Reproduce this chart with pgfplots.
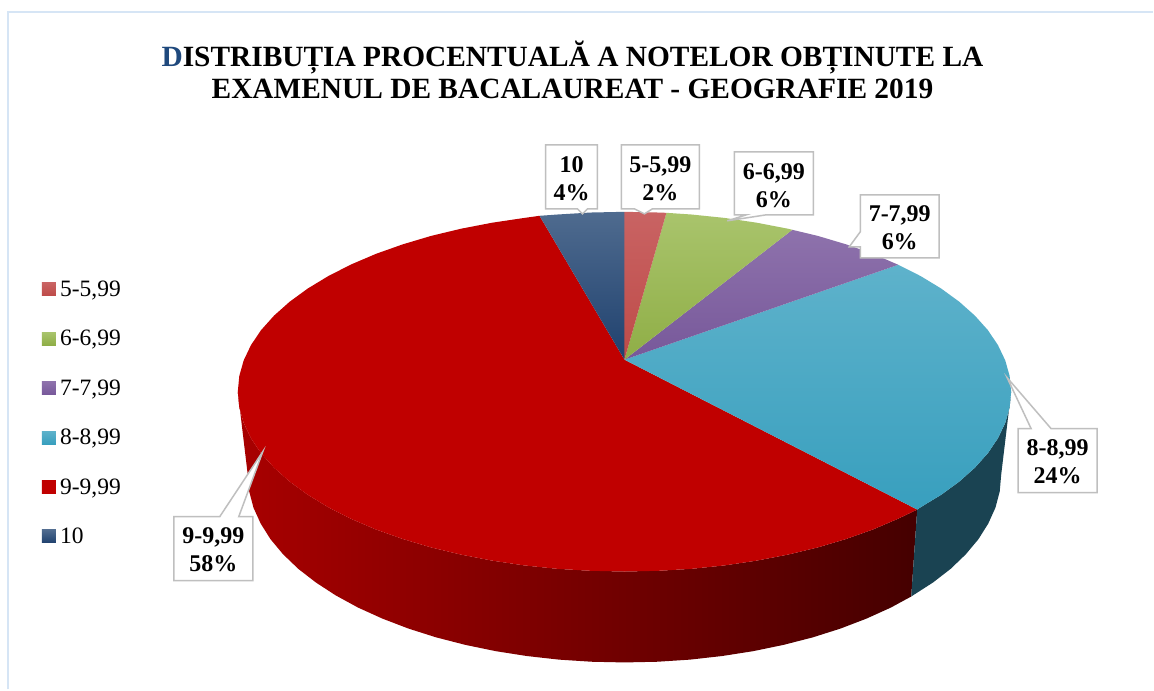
\documentclass[border=0pt]{standalone}
\usepackage{pgfplots}
\pgfplotsset{compat=1.18}
\usepackage{fontspec}
\setmainfont{Liberation Serif}
\definecolor{frameblue}{HTML}{D6E5F5}
\definecolor{boxgray}{HTML}{BFBFBF}
\definecolor{navyT}{HTML}{4F6B8F}\definecolor{navyB}{HTML}{1F416E}
\definecolor{pinkT}{HTML}{C96363}\definecolor{pinkB}{HTML}{BE4B48}
\definecolor{greenT}{HTML}{A9C46C}\definecolor{greenB}{HTML}{8FAE46}
\definecolor{purpT}{HTML}{8E72AC}\definecolor{purpB}{HTML}{77589A}
\definecolor{tealT}{HTML}{5EB2CB}\definecolor{tealB}{HTML}{389FBE}
\definecolor{tealS}{HTML}{1A4352}
\definecolor{redM}{HTML}{C00000}\definecolor{redL}{HTML}{A80000}\definecolor{redR}{HTML}{450000}
\definecolor{titleblue}{HTML}{1F497D}
\newcommand{\legswatch}[2]{\addlegendimage{legend image code/.code={\path[draw=none,top color=#1,bottom color=#2] (0pt,-6.5pt) rectangle (14pt,6.5pt);\path (16pt,0pt);}}}
\begin{document}
\begin{tikzpicture}
\begin{axis}[
  scale only axis, width=1154pt, height=690pt,
  xmin=0, xmax=1154, ymin=0, ymax=690, y dir=reverse,
  hide axis, clip=false,
  title={{\color{titleblue}D}ISTRIBUȚIA PROCENTUALĂ A NOTELOR OBȚINUTE LA\\EXAMENUL DE BACALAUREAT - GEOGRAFIE 2019},
  title style={at={(axis description cs:0.4965,0.890)},anchor=center,align=center,font=\fontsize{29.4}{32}\selectfont\bfseries},
  legend style={draw=none,fill=none,at={(axis cs:42,279)},anchor=north west,inner sep=0pt,outer sep=0pt,
     row sep=28.4pt,font=\fontsize{23.5}{27}\selectfont},
  legend cell align=left,
]
\legswatch{pinkT}{pinkB}\addlegendentry{5-5,99}
\legswatch{greenT}{greenB}\addlegendentry{6-6,99}
\legswatch{purpT}{purpB}\addlegendentry{7-7,99}
\legswatch{tealT}{tealB}\addlegendentry{8-8,99}
\legswatch{redM}{redM}\addlegendentry{9-9,99}
\legswatch{navyT}{navyB}\addlegendentry{10}

% page extent
\addplot[forget plot,draw=none,fill=white] coordinates {(0,0)(1154,0)(1154,690)(0,690)} --cycle;
% frame
\addplot[forget plot,draw=frameblue,line width=2pt] coordinates {(8,690)(8,12)(1154,12)};

% side, 9-9,99
\addplot[forget plot,draw=none,left color=redL,right color=redR] coordinates {
(238,392)(239.5,407.7)(243.9,423.3)(251.2,438.6)(261.3,453.6)(274.3,468.1)(289.9,482)(308,495.2)(328.6,507.7)(351.4,519.3)(376.2,529.9)(403,539.4)(431.5,547.9)(461.5,555.1)(492.6,561.1)(524.8,565.9)(557.8,569.3)(591.3,571.3)(625,572)(658.7,571.3)(692.2,569.3)(725.2,565.9)(757.4,561.1)(788.5,555.1)(818.5,547.9)(847,539.4)(873.8,529.9)(898.6,519.3)(918,510)
(912,597)(891.6,608.1)(867.3,619.1)(841.2,629.1)(813.5,637.9)(784.3,645.4)(753.9,651.7)(722.6,656.6)(690.4,660.2)(657.9,662.3)(625,663)(592.1,662.3)(559.6,660.2)(527.4,656.6)(496.1,651.7)(465.7,645.4)(436.5,637.9)(408.8,629.1)(382.7,619.1)(358.4,608.1)(336.2,596)(316.2,583)(298.5,569.3)(283.3,554.7)(270.7,539.6)(260.9,524)(253.7,508.1)(249.4,491.8)(248,475.5)} --cycle;
% side, 8-8,99
\addplot[forget plot,draw=none,fill=tealS] coordinates {
(918,510)(921.4,507.7)(942,495.2)(960.1,482)(975.7,468.1)(988.7,453.6)(998.8,438.6)(1006.1,423.3)(1010.5,407.7)(1012,392)
(1002,475.5)(1000.6,491.8)(996.3,508.1)(989.1,524)(979.3,539.6)(966.7,554.7)(951.5,569.3)(933.8,583)(912,597)} --cycle;

% top, 9-9,99
\addplot[forget plot,draw=none,fill=redM] coordinates {
(625,360)(918,510)(898.6,519.3)(873.8,529.9)(847,539.4)(818.5,547.9)(788.5,555.1)(757.4,561.1)(725.2,565.9)(692.2,569.3)(658.7,571.3)(625,572)(591.3,571.3)(557.8,569.3)(524.8,565.9)(492.6,561.1)(461.5,555.1)(431.5,547.9)(403,539.4)(376.2,529.9)(351.4,519.3)(328.6,507.7)(308,495.2)(289.9,482)(274.3,468.1)(261.3,453.6)(251.2,438.6)(243.9,423.3)(239.5,407.7)(238,392)(239.5,376.3)(243.9,360.7)(251.2,345.4)(261.3,330.4)(274.3,315.9)(289.9,302)(308,288.8)(328.6,276.3)(351.4,264.7)(376.2,254.1)(403,244.6)(431.5,236.1)(461.5,228.9)(492.6,222.9)(524.8,218.1)(540,216)} --cycle;
% top, 8-8,99
\addplot[forget plot,draw=none,top color=tealT,bottom color=tealB] coordinates {
(625,360)(899,265)(921.4,276.3)(942,288.8)(960.1,302)(975.7,315.9)(988.7,330.4)(998.8,345.4)(1006.1,360.7)(1010.5,376.3)(1012,392)(1010.5,407.7)(1006.1,423.3)(998.8,438.6)(988.7,453.6)(975.7,468.1)(960.1,482)(942,495.2)(921.4,507.7)(918,510)} --cycle;
% top, 7-7,99
\addplot[forget plot,draw=none,top color=purpT,bottom color=purpB] coordinates {
(625,360)(793,230)(818.5,236.1)(847,244.6)(873.8,254.1)(899,265)} --cycle;
% top, 6-6,99
\addplot[forget plot,draw=none,top color=greenT,bottom color=greenB] coordinates {
(625,360)(667,213)(692.2,214.7)(725.2,218.1)(757.4,222.9)(788.5,228.9)(793,230)} --cycle;
% top, 5-5,99
\addplot[forget plot,draw=none,top color=pinkT,bottom color=pinkB] coordinates {
(625,360)(625,212)(658.7,212.7)(667,213)} --cycle;
% top, 10
\addplot[forget plot,draw=none,top color=navyT,bottom color=navyB] coordinates {
(625,360)(540,216)(557.8,214.7)(591.3,212.7)(625,212)} --cycle;

% callouts
\addplot[forget plot,draw=boxgray,fill=white,line width=1.5pt] coordinates {(546,145)(598,145)(598,209)(588,209)(583,214)(578,209)(546,209)} --cycle;
\addplot[forget plot,draw=boxgray,fill=white,line width=1.5pt] coordinates {(622,145)(700,145)(700,209)(653,209)(645,214)(635,209)(622,209)} --cycle;
\addplot[forget plot,draw=boxgray,fill=white,line width=1.5pt] coordinates {(735,152)(814,152)(814,215)(767,215)(728,221)(747,215)(735,215)} --cycle;
\addplot[forget plot,draw=boxgray,fill=white,line width=1.5pt] coordinates {(861,195)(940,195)(940,258)(861,258)(861,247)(850,247)(861,232)} --cycle;
\addplot[forget plot,draw=boxgray,fill=white,line width=1.5pt] coordinates {(1019,429)(1032,429)(1008,378)(1052,429)(1098,429)(1098,493)(1019,493)} --cycle;
\addplot[forget plot,draw=boxgray,fill=white,line width=1.5pt] coordinates {(174,517)(220,517)(263,452)(239,517)(253,517)(253,581)(174,581)} --cycle;

\tikzset{lab/.style={font=\fontsize{24}{28}\selectfont\bfseries,align=center,inner sep=0pt}}
\node[lab] at (axis cs:572,178.5) {10\\4\%};
\node[lab] at (axis cs:661,178.5) {5-5,99\\2\%};
\node[lab] at (axis cs:774.5,185.5) {6-6,99\\6\%};
\node[lab] at (axis cs:900.5,228) {7-7,99\\6\%};
\node[lab] at (axis cs:1058.5,462.5) {8-8,99\\24\%};
\node[lab] at (axis cs:213.5,550.5) {9-9,99\\58\%};
\end{axis}
\end{tikzpicture}
\end{document}
